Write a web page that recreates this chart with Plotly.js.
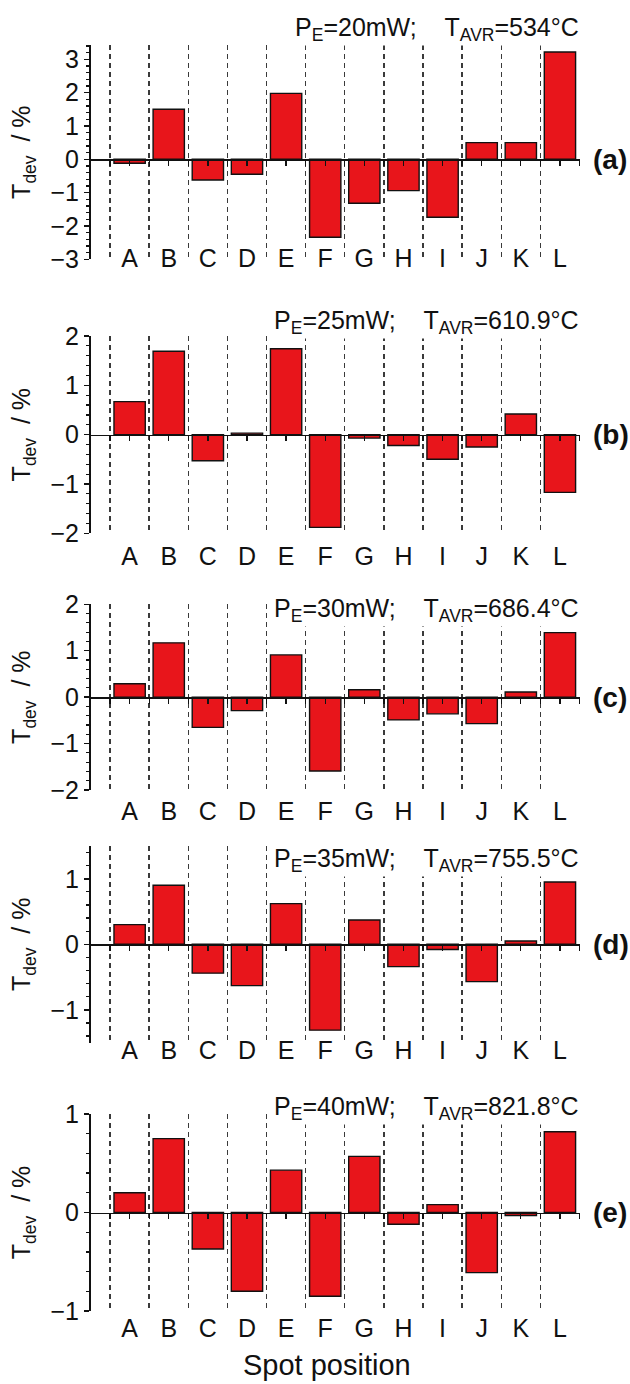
<!DOCTYPE html>
<html>
<head>
<meta charset="utf-8">
<script src="https://cdn.plot.ly/plotly-3.0.1.min.js"></script>
<style>html,body{margin:0;padding:0;background:#fff;}</style>
</head>
<body>
<div id="chart" style="width:630px;height:1384px;"></div>
<script>
// ---- data ----
const CATEGORIES = ['A','B','C','D','E','F','G','H','I','J','K','L'];
const TDEV_20MW = [-0.12, 1.50, -0.62, -0.45, 1.98, -2.34, -1.32, -0.94, -1.74, 0.50, 0.50, 3.22];
const TDEV_25MW = [0.67, 1.69, -0.53, 0.03, 1.74, -1.88, -0.07, -0.22, -0.50, -0.25, 0.42, -1.17];
const TDEV_30MW = [0.29, 1.17, -0.65, -0.29, 0.91, -1.59, 0.16, -0.49, -0.36, -0.57, 0.11, 1.39];
const TDEV_35MW = [0.30, 0.90, -0.44, -0.63, 0.62, -1.31, 0.37, -0.34, -0.08, -0.57, 0.05, 0.95];
const TDEV_40MW = [0.20, 0.75, -0.37, -0.80, 0.43, -0.85, 0.57, -0.12, 0.08, -0.61, -0.03, 0.82];
const POWERS = ['20mW', '25mW', '30mW', '35mW', '40mW'];
const T_AVR = ['534', '610.9', '686.4', '755.5', '821.8'];
const PANEL_LABELS = ['(a)', '(b)', '(c)', '(d)', '(e)'];
const Y_TITLE = 'T<sub>dev</sub>\u00A0\u00A0/ %';
const X_TITLE = 'Spot position';

// ---- styling / layout ----
const SERIES = [TDEV_20MW, TDEV_25MW, TDEV_30MW, TDEV_35MW, TDEV_40MW];
const FONT = 'Liberation Sans, Arial, Helvetica, sans-serif';
const H = 1384;
const XD = [90.5/630, 579.5/630];
const YR = [[-3, 3.43], [-2, 2], [-2, 2], [-1.5, 1.5], [-1, 1]];
// plot top / bottom in pixels
const PIX = [[45, 259.3], [336, 533.3], [604.3, 790], [846, 1042.6], [1114, 1311]];
const TITLE_Y = [29, 322, 610, 860, 1108];
const LABEL_STANDOFF = [-18, 6, 4, -10, 0];

const idx = CATEGORIES.map((c, i) => i);
const bounds = idx.map(v => v - 0.5);

const data = [];
const layout = {
  width: 630, height: 1384,
  margin: {l: 0, r: 0, t: 0, b: 0},
  showlegend: false,
  paper_bgcolor: '#fff', plot_bgcolor: 'rgba(0,0,0,0)',
  font: {family: FONT, color: '#111', size: 24},
  annotations: []
};

SERIES.forEach((vals, p) => {
  const i = p + 1;
  const xs = i === 1 ? 'xaxis' : 'xaxis' + i;
  const ys = i === 1 ? 'yaxis' : 'yaxis' + i;
  const zx = 'xaxis' + (i + 5);
  const d0 = 1 - PIX[p][1] / H, d1 = 1 - PIX[p][0] / H;
  const yr = YR[p];
  data.push({
    type: 'bar', x: idx, y: vals,
    xaxis: 'x' + i, yaxis: 'y' + i,
    width: 0.8,
    marker: {color: '#e8151b', line: {color: '#111', width: 1.4}},
    hoverinfo: 'skip'
  });
  // invisible companion so the zero-line axis is rendered
  data.push({
    type: 'scatter', mode: 'markers', x: idx, y: vals,
    xaxis: 'x' + (i + 5), yaxis: 'y' + i,
    marker: {opacity: 0, size: 1}, hoverinfo: 'skip'
  });
  layout[xs] = {
    domain: XD, range: [-1, 11.5], anchor: 'y' + i,
    tickmode: 'array', tickvals: idx, ticktext: CATEGORIES,
    ticks: '', showline: false, showgrid: false, zeroline: false,
    ticklabelstandoff: LABEL_STANDOFF[p],
    tickfont: {size: 25, family: FONT, color: '#111'},
    minor: {tickmode: 'array', tickvals: bounds, showgrid: true, griddash: '5px,4px',
            gridcolor: '#3a3a3a', gridwidth: 1.4, ticks: ''},
    fixedrange: true
  };
  layout[zx] = {
    overlaying: 'x' + i, anchor: 'free',
    position: d0 + (0 - yr[0]) / (yr[1] - yr[0]) * (d1 - d0),
    range: [-1, 11.5], showline: true, linecolor: '#111', linewidth: 1.5,
    ticks: 'outside', ticklen: 5, tickwidth: 1.3, tickcolor: '#111',
    tickmode: 'linear', tick0: -0.5, dtick: 0.5,
    showticklabels: false, showgrid: false, zeroline: false, fixedrange: true
  };
  layout[ys] = {
    domain: [d0, d1], range: yr, anchor: 'x' + i,
    showline: true, linecolor: '#111', linewidth: 1.5,
    ticks: 'outside', ticklen: 5, tickwidth: 1.5, tickcolor: '#111',
    tickmode: 'linear', tick0: 0, dtick: 1,
    minor: {tickmode: 'linear', dtick: 0.2, ticks: 'outside', ticklen: 3, tickwidth: 1.2, tickcolor: '#111'},
    showgrid: false, zeroline: false,
    tickfont: {size: 25, family: FONT, color: '#111'},
    title: {text: Y_TITLE, font: {size: 25, family: FONT, color: '#111'}, standoff: 12},
    fixedrange: true
  };
  layout.annotations.push({
    xref: 'paper', yref: 'paper', x: XD[1], y: 1 - TITLE_Y[p] / H,
    xanchor: 'right', yanchor: 'middle', showarrow: false,
    bgcolor: '#fff', borderpad: 0,
    text: 'P<sub>E</sub>=' + POWERS[p] + ';\u00A0\u00A0\u00A0\u00A0T<sub>AVR</sub>=' + T_AVR[p] + '°C',
    font: {size: 25, family: FONT, color: '#111'}
  });
  layout.annotations.push({
    xref: 'paper', yref: 'y' + i, x: 591 / 630, y: 0,
    xanchor: 'left', yanchor: 'middle', showarrow: false,
    text: '<b>' + PANEL_LABELS[p] + '</b>',
    font: {size: 28, family: FONT, color: '#111'}
  });
});

layout.annotations.push({
  xref: 'paper', yref: 'paper', x: 327 / 630, y: 1 - 1365 / H,
  xanchor: 'center', yanchor: 'middle', showarrow: false,
  text: X_TITLE, font: {size: 29, family: FONT, color: '#111'}
});

Plotly.newPlot('chart', data, layout, {staticPlot: true, displayModeBar: false});
</script>
</body>
</html>
